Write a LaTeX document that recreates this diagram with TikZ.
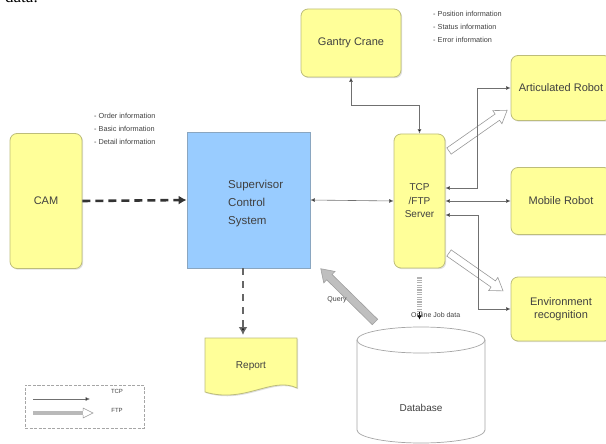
\documentclass[tikz,border=0pt]{standalone}
\usepackage{fontspec}
\setmainfont{Liberation Sans}
\newfontfamily\serifdata{Liberation Serif}
\usetikzlibrary{arrows.meta,shadows,calc}
\definecolor{boxyellow}{HTML}{FFFF99}
\definecolor{boxedge}{HTML}{BDBD7A}
\definecolor{boxblue}{HTML}{99CCFF}
\definecolor{blueedge}{HTML}{8AA6C0}
\definecolor{linegray}{HTML}{707070}
\newcommand\hollowarrow[4]{%
  \begin{scope}[shift={#1}, rotate=#2]
    \draw[#4] (0,-3.8) -- (#3-12,-3.8) -- (#3-12,-8) -- (#3,0) -- (#3-12,8) -- (#3-12,3.8) -- (0,3.8) -- cycle;
  \end{scope}}
\begin{document}
\begin{tikzpicture}[x=1pt,y=-1pt,
  ybox/.style={draw=boxedge, fill=boxyellow, rounded corners=7pt, line width=0.8pt,
    drop shadow={shadow xshift=1.2pt, shadow yshift=-1.2pt, fill=black!25},
    font=\fontsize{11}{13}\selectfont, text=black!75, align=center, inner sep=0pt},
  bbox/.style={draw=blueedge, fill=boxblue, line width=0.8pt,
    drop shadow={shadow xshift=1.2pt, shadow yshift=-1.2pt, fill=black!25}, inner sep=0pt},
  info/.style={font=\fontsize{7.3}{13.2}\selectfont, text=black!75, align=left, inner sep=0pt},
  tcpline/.style={draw=linegray, line width=0.6pt,
    {Latex[length=4.5pt,width=4pt,fill=black]}-{Latex[length=4.5pt,width=4pt,fill=black]}},
  tcpone/.style={draw=linegray, line width=0.6pt, -{Latex[length=4.5pt,width=4pt,fill=black]}},
  bigdash/.style={draw=black!80, line width=2.6pt, dash pattern=on 8pt off 5pt,
    -{Latex[length=8pt,width=9pt]}},
  repdash/.style={draw=black!60, line width=2pt, dash pattern=on 7pt off 6pt,
    -{Latex[length=8pt,width=9pt,fill=black]}},
  hollow/.style={draw=gray!80, line width=0.6pt},
  grayarrow/.style={draw=gray!75, fill=gray!50, line width=0.6pt},
  jobbar/.style={draw=gray!60, line width=5pt, dash pattern=on 1.2pt off 1.2pt},
  lbl/.style={font=\fontsize{7}{8}\selectfont, text=black!75, inner sep=0pt}]
\useasboundingbox (0,0) rectangle (606,444);
\clip (0,0) rectangle (606,444);

\node[font=\serifdata\fontsize{17}{17}\selectfont, anchor=base west, inner sep=0pt] (caption) at (5,3) {data.};

% boxes
\node[ybox, minimum width=100pt, minimum height=68pt] (gantry) at (351,43) {Gantry Crane};
\node[ybox, minimum width=72pt, minimum height=135pt] (cam) at (46,201) {CAM};
\node[bbox, minimum width=123pt, minimum height=136pt] (scs) at (248.5,200) {};
\node[font=\fontsize{11.5}{18}\selectfont, text=black!75, align=left, anchor=west, inner sep=0pt] (scstext) at (228,204) {Supervisor\\Control\\System};
\node[ybox, minimum width=51pt, minimum height=134pt, font=\fontsize{10}{13.5}\selectfont] (tcp) at (419.5,201) {TCP\\/FTP\\Server};
\node[ybox, minimum width=100pt, minimum height=65pt] (art) at (561,88) {Articulated Robot};
\node[ybox, minimum width=100pt, minimum height=67pt] (mob) at (561,201) {Mobile Robot};
\node[ybox, minimum width=100pt, minimum height=64pt] (env) at (561,309) {Environment\\recognition};

% report document
\draw[draw=boxedge, fill=boxyellow, line width=0.8pt,
  drop shadow={shadow xshift=1.2pt, shadow yshift=-1.2pt, fill=black!25}]
  (205,338) -- (297,338) -- (297,388) .. controls (272,376) and (245,404) .. (205,392) -- cycle;
\node[font=\fontsize{10}{12}\selectfont, text=black!75] (report) at (251,366) {Report};
\coordinate (reptop) at (243,338);

% database
\draw[draw=gray!70, fill=white, line width=0.7pt] (357,340) -- (357,430)
  arc[start angle=180, end angle=360, x radius=64pt, y radius=13pt] -- (485,340);
\draw[draw=gray!70, fill=white, line width=0.7pt] (421,340) ellipse [x radius=64pt, y radius=13pt];
\node[font=\fontsize{10}{12}\selectfont, text=black!75] (db) at (421,408) {Database};
\coordinate (dbtop) at (421,327);

% hollow FTP arrows
\hollowarrow{(449,151)}{35}{71}{hollow}
\hollowarrow{(449,253)}{-35}{66}{hollow}
% query arrow
\hollowarrow{(375,322)}{135.5}{76}{grayarrow}
\node[lbl] (query) at (337,300) {Query};

% connectors
\draw[bigdash] (cam.east) -- (scs.west);
\draw[tcpline] (scs.east) -- (tcp.west);
\draw[repdash] (scs.south -| reptop) -- ([yshift=3pt]reptop);
\draw[tcpline] (gantry.south) -- ++(0,28) -| (tcp.north);
\draw[tcpline] ([yshift=13pt]tcp.east) -- ++(32,0) |- (art.west);
\draw[tcpline] (tcp.east) -- (mob.west);
\draw[tcpline] ([yshift=-14pt]tcp.east) -- ++(33,0) |- (env.west);
\draw[jobbar, shorten <=9pt, shorten >=15pt] (tcp.south) -- (tcp.south |- dbtop);
\draw[-{Latex[length=4pt,width=4.5pt]}, black, line width=0.6pt] ([yshift=-44pt]tcp.south) -- ([yshift=-51pt]tcp.south);
\node[lbl, anchor=west] (jobdata) at (411,315) {Online Job data};

% info texts
\node[info, anchor=base west] (caminfo) at (94,145) {- Order information\\- Basic information\\- Detail information};
\node[info, anchor=base west] (robinfo) at (433,43) {- Position information\\- Status information\\- Error information};

% legend
\node[draw=gray!70, dash pattern=on 3pt off 1.5pt, line width=0.6pt, minimum width=119pt, minimum height=43pt, inner sep=0pt] (legend) at (84.5,406.5) {};
\coordinate (lg1) at (33,399);
\coordinate (lg2) at (90,399);
\draw[tcpone] (lg1) -- (lg2);
\begin{scope}[shift={(33,413)}]
  \fill[gray!55] (0,-2.2) rectangle (50,2.2);
  \draw[draw=gray!80, fill=white, line width=0.5pt] (50,-2.2) -- (50,-5) -- (60,0) -- (50,5) -- (50,2.2);
\end{scope}
\node[font=\fontsize{6}{7}\selectfont, text=black!75] (legtcp) at (117,391) {TCP};
\node[font=\fontsize{6}{7}\selectfont, text=black!75] (legftp) at (117,410) {FTP};
\end{tikzpicture}
\end{document}
